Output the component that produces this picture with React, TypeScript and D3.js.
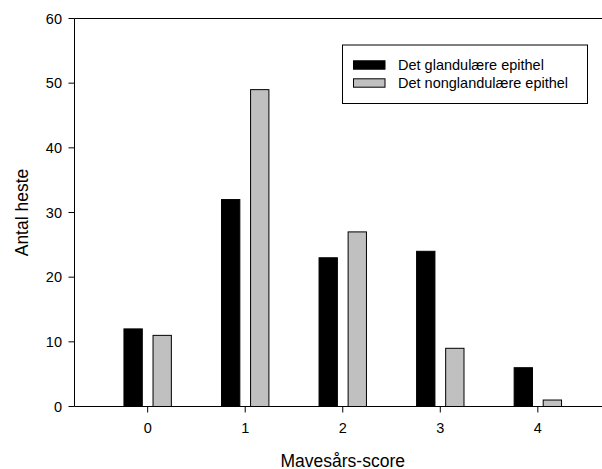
import React from 'react';
import * as d3 from 'd3';

// data
const categories = [0, 1, 2, 3, 4];
const glandular = [12, 32, 23, 24, 6];
const nonGlandular = [11, 49, 27, 9, 1];
const yTicks = [0, 10, 20, 30, 40, 50, 60];
const seriesNames = ['Det glandulære epithel', 'Det nonglandulære epithel'];
const seriesColors = ['#000000', '#c0c0c0'];

const W = 602;
const H = 469;
const margin = { left: 74.5, top: 18.5, right: 611, bottom: 406.5 };
const font = 'Arial, "Liberation Sans", sans-serif';

const App = () => {
  const x = d3.scaleLinear().domain([-0.75, 4.75]).range([margin.left, margin.right]);
  const y = d3.scaleLinear().domain([0, 60]).range([margin.bottom, margin.top]);

  const barW = 0.188;
  const offsets = [-0.243, 0.055];
  const series = [glandular, nonGlandular];

  return (
    <svg width={W} height={H} style={{ position: 'absolute', left: 0, top: 0, overflow: 'hidden' }}
      fontFamily={font}>
      <rect width={W} height={H} fill="#fff" />

      {/* bars */}
      {series.map((vals, s) =>
        vals.map((v, i) => {
          const x0 = x(categories[i] + offsets[s]);
          const x1 = x(categories[i] + offsets[s] + barW);
          return (
            <rect key={`${s}-${i}`} x={x0} y={y(v)} width={x1 - x0} height={y(0) - y(v)}
              fill={seriesColors[s]} stroke="#000" strokeWidth={1} />
          );
        })
      )}

      {/* frame: top, left, bottom (right edge falls outside the picture) */}
      <line x1={margin.left} x2={margin.right} y1={margin.top} y2={margin.top} stroke="#000" />
      <line x1={margin.left} x2={margin.left} y1={margin.top} y2={margin.bottom} stroke="#000" />
      <line x1={margin.left} x2={margin.right} y1={margin.bottom} y2={margin.bottom} stroke="#000" />

      {/* y axis */}
      {yTicks.map(t => (
        <g key={t} transform={`translate(0,${y(t)})`}>
          <line x1={margin.left - 6} x2={margin.left} stroke="#000" />
          <text x={margin.left - 12.5} dy="0.35em" textAnchor="end" fontSize={14.5}>{t}</text>
        </g>
      ))}

      {/* x axis */}
      {categories.map(c => (
        <g key={c} transform={`translate(${x(c)},0)`}>
          <line y1={margin.bottom} y2={margin.bottom + 6} stroke="#000" />
          <text y={433} textAnchor="middle" fontSize={14.5}>{c}</text>
        </g>
      ))}

      <text x={(margin.left + margin.right) / 2} y={466.5} textAnchor="middle" fontSize={17.5}>Mavesårs-score</text>
      <text transform={`translate(28,${(margin.top + margin.bottom) / 2}) rotate(-90)`} textAnchor="middle"
        fontSize={17.5}>Antal heste</text>

      {/* legend */}
      <rect x={342.5} y={45} width={245} height={58.5} fill="#fff" stroke="#000" />
      {seriesNames.map((n, i) => (
        <g key={n} transform={`translate(0,${65 + i * 18})`}>
          <rect x={353.5} y={-4.2} width={31.5} height={8.4} fill={seriesColors[i]} stroke="#000" />
          <text x={398} dy="0.33em" fontSize={14.5}>{n}</text>
        </g>
      ))}
    </svg>
  );
};

export default App;
